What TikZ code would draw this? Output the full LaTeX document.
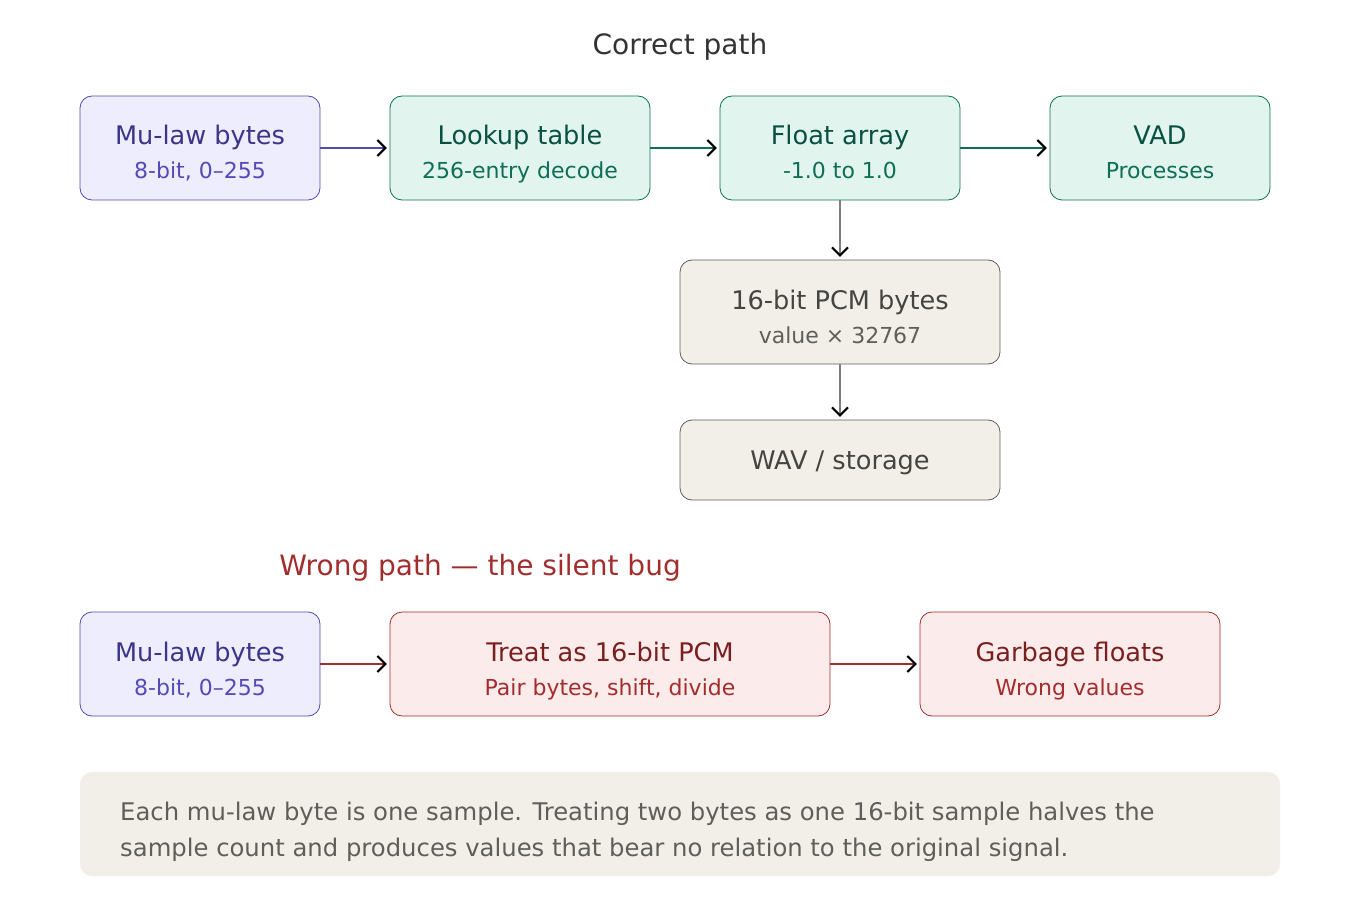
\documentclass[tikz,border=0pt]{standalone}
\usepackage{fontspec}
\setmainfont{DejaVu Sans}
\usetikzlibrary{arrows.meta}
\definecolor{pf}{HTML}{EEEDFE}\definecolor{ps}{HTML}{534AB7}\definecolor{pt}{HTML}{3C3489}
\definecolor{gf}{HTML}{E1F5EE}\definecolor{gs}{HTML}{0F6E56}\definecolor{gt}{HTML}{085041}
\definecolor{bf}{HTML}{F1EFE8}\definecolor{bs}{HTML}{5F5E5A}\definecolor{bt}{HTML}{444441}
\definecolor{rf}{HTML}{FCEBEB}\definecolor{rs}{HTML}{A32D2D}\definecolor{rt}{HTML}{791F1F}
\tikzset{
 box/.style={draw,rounded corners=12pt,line width=0.8pt,inner sep=0pt},
 big/.style={font=\fontsize{28}{32}\selectfont,anchor=base},
 ttl/.style={font=\fontsize{25.6}{30}\selectfont,anchor=base},
 sub/.style={font=\fontsize{22}{26}\selectfont,anchor=base},
 arr/.style={line width=2.5pt,shorten >=3pt,-{Straight Barb[length=8pt,width=16pt,line width=2pt,color=black]}},
}
\newcommand{\bx}[8]{% name x1 y1 x2 y2 fill stroke
 \path[box,fill=#6,draw=#7] (#2,#3) rectangle (#4,#5);
 \node[inner sep=0pt,minimum width=#4pt-#2pt,minimum height=#5pt-#3pt] (#1) at ({(#2+#4)/2},{(#3+#5)/2}) {};}
\begin{document}
\begin{tikzpicture}[x=1pt,y=-1pt]
\useasboundingbox (0,0) rectangle (1360,920);
\node[big,text=black!80] at (680,55) {Correct path};
\bx{m1}{80}{96}{320}{200}{pf}{ps}{}
\node[ttl,text=pt] at (200,145) {Mu-law bytes};\node[sub,text=ps] at (200,179) {8-bit, 0–255};
\bx{lt}{390}{96}{650}{200}{gf}{gs}{}
\node[ttl,text=gt] at (520,145) {Lookup table};\node[sub,text=gs] at (520,179) {256-entry decode};
\bx{fa}{720}{96}{960}{200}{gf}{gs}{}
\node[ttl,text=gt] at (840,145) {Float array};\node[sub,text=gs] at (840,179) {-1.0 to 1.0};
\bx{vad}{1050}{96}{1270}{200}{gf}{gs}{}
\node[ttl,text=gt] at (1160,145) {VAD};\node[sub,text=gs] at (1160,179) {Processes};
\bx{pcm}{680}{260}{1000}{364}{bf}{bs}{}
\node[ttl,text=bt] at (840,309) {16-bit PCM bytes};\node[sub,text=bs] at (840,343) {value × 32767};
\bx{wav}{680}{420}{1000}{500}{bf}{bs}{}
\node[ttl,text=bt] at (840,469) {WAV / storage};
\draw[arr,ps] (m1.east) -- (lt.west);
\draw[arr,gs] (lt.east) -- (fa.west);
\draw[arr,gs] (fa.east) -- (vad.west);
\draw[arr,bs!80] (fa.south) -- (pcm.north);
\draw[arr,bs!80] (pcm.south) -- (wav.north);
\node[big,text=rs] at (480,575) {Wrong path — the silent bug};
\bx{m2}{80}{612}{320}{716}{pf}{ps}{}
\node[ttl,text=pt] at (200,661) {Mu-law bytes};\node[sub,text=ps] at (200,695) {8-bit, 0–255};
\bx{tr}{390}{612}{830}{716}{rf}{rs}{}
\node[ttl,text=rt] at (610,661) {Treat as 16-bit PCM};\node[sub,text=rs] at (610,695) {Pair bytes, shift, divide};
\bx{gb}{920}{612}{1220}{716}{rf}{rs}{}
\node[ttl,text=rt] at (1070,661) {Garbage floats};\node[sub,text=rs] at (1070,695) {Wrong values};
\draw[arr,rs] (m2.east) -- (tr.west);
\draw[arr,rs] (tr.east) -- (gb.west);
\fill[bf,rounded corners=12pt] (80,772) rectangle (1280,876);
\node[font=\fontsize{24.3}{28}\selectfont,anchor=base west,text=bs,inner sep=0pt] (n1) at (120,820) {Each mu-law byte is one sample. Treating two bytes as one 16-bit sample halves the};
\node[font=\fontsize{24.3}{28}\selectfont,anchor=base west,text=bs,inner sep=0pt] (n2) at (120,856) {sample count and produces values that bear no relation to the original signal.};
\end{tikzpicture}
\end{document}
